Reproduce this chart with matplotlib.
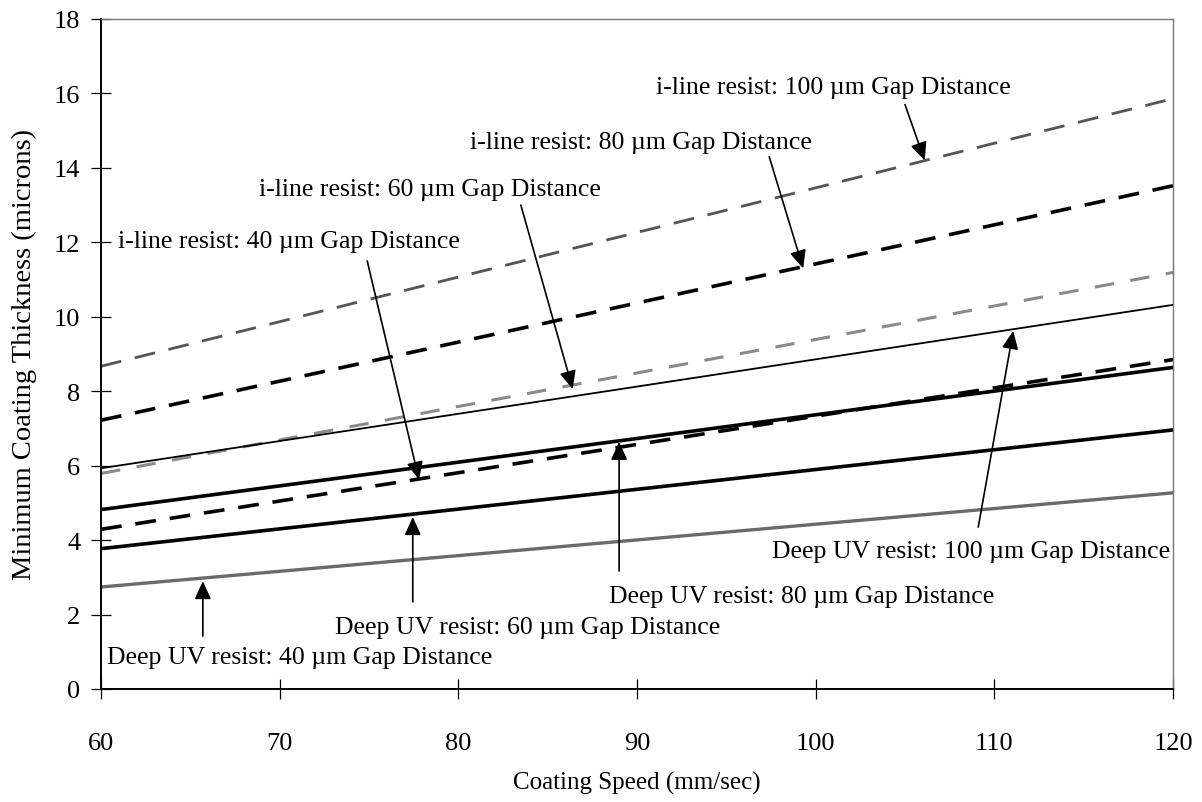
import matplotlib
matplotlib.use("Agg")
import matplotlib.pyplot as plt

plt.rcParams['font.family'] = ['Liberation Serif', 'DejaVu Serif']
plt.rcParams['lines.scale_dashes'] = False

# Data: coating speed (mm/sec) and minimum coating thickness (microns)
speed = [60, 120]
iline_100 = [8.67, 15.86]
iline_80 = [7.22, 13.52]
iline_60 = [5.79, 11.19]
iline_40 = [4.29, 8.85]
duv_100 = [5.93, 10.32]
duv_80 = [4.82, 8.64]
duv_60 = [3.77, 6.96]
duv_40 = [2.74, 5.27]

xticks = [60, 70, 80, 90, 100, 110, 120]
yticks = [0, 2, 4, 6, 8, 10, 12, 14, 16, 18]

fig = plt.figure(figsize=(12.02, 8.03), dpi=100)
ax = fig.add_axes([101/1202, 1 - 690/803, (1173-101)/1202, (690-20)/803])

ax.plot(speed, iline_100, color='#555555', lw=2.0, dashes=(15, 10))
ax.plot(speed, iline_80, color='black', lw=2.6, dashes=(15, 10))
ax.plot(speed, iline_60, color='#8a8a8a', lw=2.2, dashes=(14, 12))
ax.plot(speed, duv_100, color='black', lw=1.3)
ax.plot(speed, iline_40, color='black', lw=2.6, dashes=(15, 10))
ax.plot(speed, duv_80, color='black', lw=2.6)
ax.plot(speed, duv_60, color='black', lw=2.6)
ax.plot(speed, duv_40, color='#6a6a6a', lw=2.4)

ax.set_xlim(60, 120)
ax.set_ylim(0, 18)
ax.set_xticks(xticks)
ax.set_yticks(yticks)
ax.tick_params(axis='both', direction='inout', length=14, width=0.9, labelsize=19)
ax.tick_params(axis='y', pad=8)
ax.tick_params(axis='x', pad=24)

for s in ['left', 'bottom']:
    ax.spines[s].set_linewidth(1.4)
    ax.spines[s].set_color('black')
for s in ['top', 'right']:
    ax.spines[s].set_linewidth(1.0)
    ax.spines[s].set_color('#777777')

ax.set_xlabel('Coating Speed (mm/sec)', fontsize=18, labelpad=12)
ax.set_ylabel('Minimum Coating Thickness (microns)', fontsize=20.5, labelpad=12)

arrow = dict(arrowstyle='-|>,head_length=0.55,head_width=0.25', color='black',
             lw=1.2, shrinkA=0, shrinkB=0, mutation_scale=20)

labels = [
    ('i-line resist: 100 \u00b5m Gap Distance', (101.0, 16.18), (105.0, 15.7), (106.1, 14.2)),
    ('i-line resist: 80 \u00b5m Gap Distance', (90.2, 14.7), (97.4, 14.3), (99.3, 11.3)),
    ('i-line resist: 60 \u00b5m Gap Distance', (78.4, 13.44), (83.5, 13.0), (86.4, 8.06)),
    ('i-line resist: 40 \u00b5m Gap Distance', (70.5, 12.04), (74.9, 11.5), (77.8, 5.62)),
    ('Deep UV resist: 100 \u00b5m Gap Distance', (108.7, 3.71), (109.1, 4.35), (111.06, 9.62)),
    ('Deep UV resist: 80 \u00b5m Gap Distance', (99.2, 2.5), (89.0, 3.17), (89.0, 6.64)),
    ('Deep UV resist: 60 \u00b5m Gap Distance', (83.9, 1.67), (77.45, 2.34), (77.45, 4.62)),
    ('Deep UV resist: 40 \u00b5m Gap Distance', (71.1, 0.86), (65.7, 1.42), (65.7, 2.9)),
]
for text, pos, start, tip in labels:
    ax.text(pos[0], pos[1], text, ha='center', va='center', fontsize=18.5)
    ax.annotate('', xy=tip, xytext=start, arrowprops=arrow)

fig.savefig('out.png', dpi=100, facecolor='white')
